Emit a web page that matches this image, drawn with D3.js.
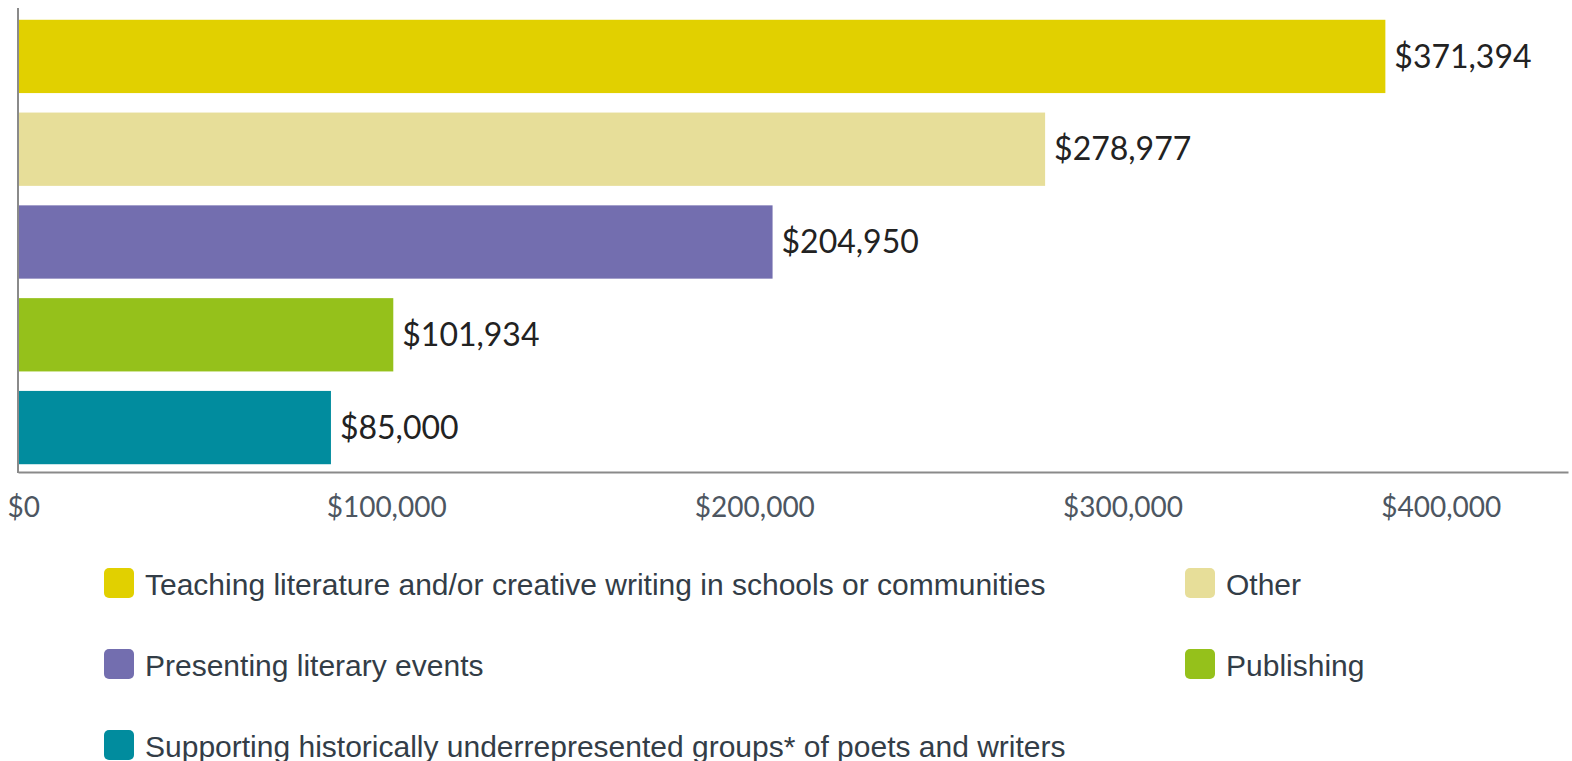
<!DOCTYPE html>
<html>
<head>
<meta charset="utf-8">
<script src="https://cdn.jsdelivr.net/npm/d3@7"></script>
<style>
  body { margin: 0; background: #fff; }
  svg { display: block; }
</style>
</head>
<body>
<div id="chart"></div>
<script>
// Data
const categories = [
    "Teaching literature and/or creative writing in schools or communities",
    "Other",
    "Presenting literary events",
    "Publishing",
    "Supporting historically underrepresented groups* of poets and writers"
];
const amounts = [371394, 278977, 204950, 101934, 85000];
const colors = ["#e1d000", "#e7de99", "#736eaf", "#95c11b", "#018c9e"];
const tickValues = [0, 100000, 200000, 300000, 400000];

const width = 1572;
const height = 761;

const svg = d3.select("#chart").append("svg")
    .attr("width", width)
    .attr("height", height);

const x = d3.scaleLinear()
    .domain([0, 421000])
    .range([18, 1568]);

const y = d3.scaleBand()
    .domain(categories)
    .range([10.5, 473.5])
    .paddingInner(0.21)
    .paddingOuter(0.1);

const money = d3.format("$,");

// Bars
svg.append("g")
    .selectAll("rect")
    .data(categories)
    .enter().append("rect")
    .attr("x", x(0))
    .attr("y", d => y(d))
    .attr("width", (d, i) => x(amounts[i]) - x(0))
    .attr("height", y.bandwidth())
    .attr("fill", (d, i) => colors[i]);

// Value labels
svg.append("g")
    .selectAll("text")
    .data(categories)
    .enter().append("text")
    .attr("x", (d, i) => x(amounts[i]) + 9)
    .attr("y", d => y(d) + y.bandwidth() / 2)
    .attr("dy", "0.35em")
    .style("font-family", "Lato, sans-serif")
    .style("font-size", "32px")
    .attr("fill", "#222")
    .text((d, i) => money(amounts[i]));

// X axis
const xAxis = svg.append("g")
    .attr("transform", "translate(0,472)")
    .call(d3.axisBottom(x).tickValues(tickValues).tickSize(0).tickPadding(25).tickFormat(money));
xAxis.select(".domain").attr("stroke", "#8a8a8a").attr("stroke-width", 2);
xAxis.selectAll("text")
    .style("font-family", "Lato, sans-serif")
    .style("font-size", "28px")
    .attr("fill", "#4d5661");
// first and last labels are pushed inside the plot like the original
xAxis.selectAll(".tick").filter(d => d === 0).select("text").attr("text-anchor", "start").attr("dx", -11);
xAxis.selectAll(".tick").filter(d => d === 400000).select("text").attr("dx", -50);

// Y axis line
svg.append("line")
    .attr("x1", 18).attr("x2", 18)
    .attr("y1", 8).attr("y2", 473)
    .attr("stroke", "#8a8a8a")
    .attr("stroke-width", 2);

// Legend
const legend = svg.append("g")
    .selectAll("g")
    .data(categories)
    .enter().append("g")
    .attr("transform", (d, i) => `translate(${i % 2 === 0 ? 104 : 1185},${584 + Math.floor(i / 2) * 81})`);

legend.append("rect")
    .attr("x", 0)
    .attr("y", -16)
    .attr("width", 30)
    .attr("height", 30)
    .attr("rx", 5)
    .attr("fill", (d, i) => colors[i]);

legend.append("text")
    .attr("x", 41)
    .attr("dy", "0.35em")
    .style("font-family", "'Liberation Sans', Arial, sans-serif")
    .style("font-size", "30px")
    .attr("fill", "#333d47")
    .text(d => d);
</script>
</body>
</html>
